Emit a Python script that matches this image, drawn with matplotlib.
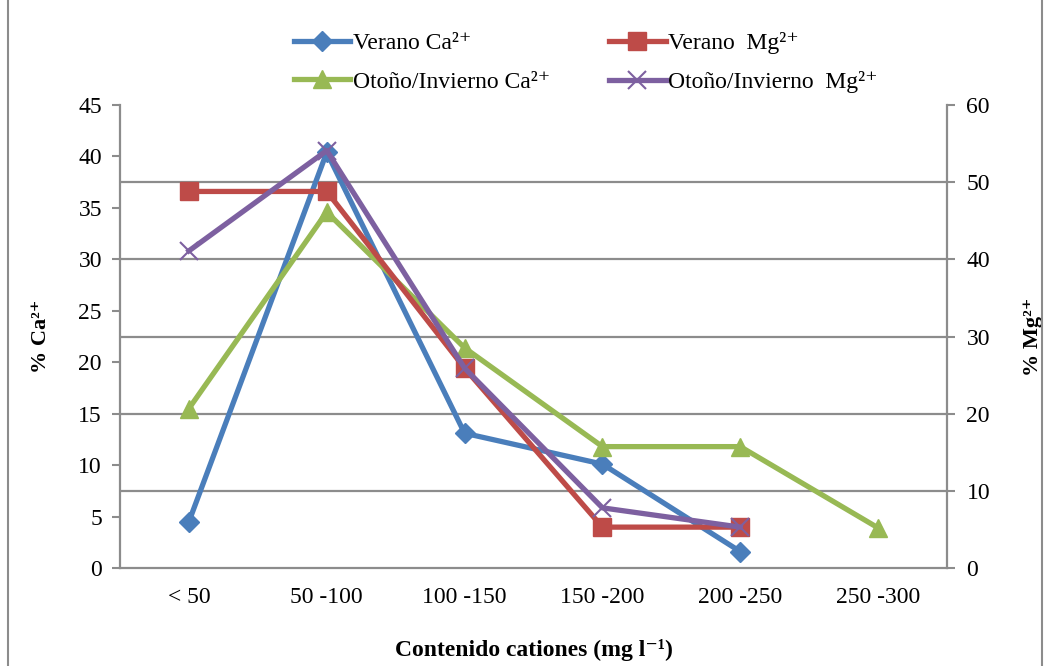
import matplotlib
matplotlib.use("Agg")
import matplotlib.pyplot as plt
from matplotlib.patches import Rectangle

categories = ["< 50", "50 -100", "100 -150", "150 -200", "200 -250", "250 -300"]
verano_ca = [4.5, 40.4, 13.1, 10.1, 1.6]
verano_mg = [48.8, 48.8, 25.9, 5.3, 5.3]
otono_ca = [15.5, 34.6, 21.4, 11.8, 11.8, 3.9]
otono_mg = [41.1, 54.1, 25.9, 7.8, 5.3]
left_ticks = [0, 5, 10, 15, 20, 25, 30, 35, 40, 45]
right_ticks = [0, 10, 20, 30, 40, 50, 60]

FONT = ["Liberation Serif", "DejaVu Serif"]
plt.rcParams["font.family"] = FONT
GRAY = "#8c8c8c"

fig = plt.figure(figsize=(10.46, 6.66), dpi=100)
fig.patches.append(Rectangle((0.008, -0.01), 0.988, 1.02, transform=fig.transFigure,
                             fill=False, edgecolor=GRAY, linewidth=1.5))
ax = fig.add_axes([0.1147, 0.1471, 0.7907, 0.6952])
ax2 = ax.twinx()

x = list(range(len(categories)))
for v in right_ticks[1:-1]:
    ax.axhline(v * 45 / 60, color=GRAY, linewidth=1.6, zorder=0)

l1, = ax.plot(x[:len(verano_ca)], verano_ca, color="#4a7ebb", linewidth=3.8,
              marker="D", markersize=10, label="Verano Ca²⁺", zorder=3)
l3, = ax.plot(x[:len(otono_ca)], otono_ca, color="#98b954", linewidth=3.8,
              marker="^", markersize=13, label="Otoño/Invierno Ca²⁺", zorder=3)
l2, = ax2.plot(x[:len(verano_mg)], verano_mg, color="#be4b48", linewidth=3.8,
               marker="s", markersize=13, label="Verano  Mg²⁺", zorder=3)
l4, = ax2.plot(x[:len(otono_mg)], otono_mg, color="#7d60a0", linewidth=3.8,
               marker="x", markersize=13, markeredgewidth=1.5, label="Otoño/Invierno  Mg²⁺", zorder=3)

ax.set_xlim(-0.5, 5.5)
ax.set_ylim(0, 45)
ax2.set_ylim(0, 60)
ax.set_yticks(left_ticks)
ax2.set_yticks(right_ticks)
ax.set_xticks(x)
ax.set_xticklabels(categories)

for a in (ax, ax2):
    for s in a.spines.values():
        s.set_visible(False)
    a.patch.set_visible(False)
for a, side in ((ax, "left"), (ax, "bottom"), (ax2, "right")):
    a.spines[side].set_visible(True)
    a.spines[side].set_color(GRAY)
    a.spines[side].set_linewidth(1.6)

ax.tick_params(axis="y", direction="out", length=6, width=1.5, color=GRAY,
               labelsize=17, pad=7)
ax2.tick_params(axis="y", direction="out", length=6, width=1.5, color=GRAY,
                labelsize=17, pad=8)
ax.tick_params(axis="x", length=0, labelsize=17, pad=14)

ax.set_ylabel("% Ca²⁺", fontsize=16, fontweight="bold", labelpad=20)
ax2.set_ylabel("% Mg²⁺", fontsize=16, fontweight="bold", labelpad=24, rotation=90)
ax.set_xlabel("Contenido cationes (mg l⁻¹)", fontsize=17, fontweight="bold", labelpad=22)

leg = fig.legend(handles=[l1, l3, l2, l4], ncol=2, loc="center",
                 bbox_to_anchor=(0.56, 0.906), frameon=False, fontsize=17,
                 handlelength=2.4, handletextpad=0.1, columnspacing=2.5,
                 labelspacing=0.72)

fig.savefig("out.png", dpi=100)
